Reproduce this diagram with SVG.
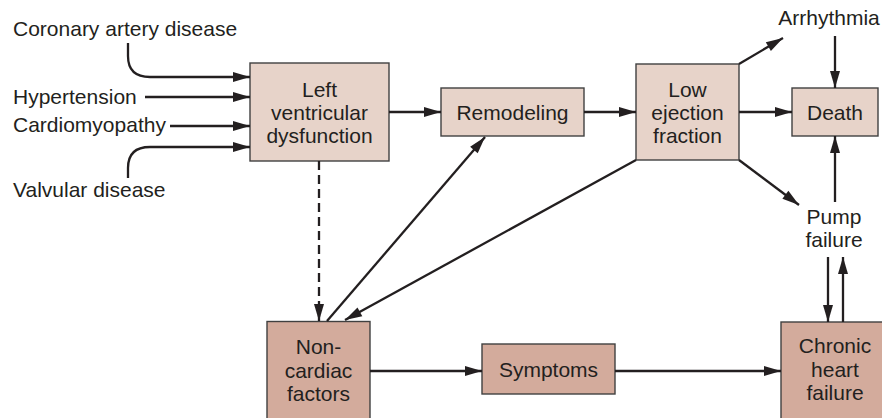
<svg xmlns="http://www.w3.org/2000/svg" width="882" height="418" viewBox="0 0 882 418">
  <defs>
    <marker id="arrow" markerUnits="userSpaceOnUse" markerWidth="18" markerHeight="11" refX="17" refY="5" orient="auto" overflow="visible">
      <path d="M0,0 L17,5 L0,10 Z" fill="#231f20"/>
    </marker>
    <style>
      .t { font-family: "Liberation Sans", Arial, sans-serif; font-size: 21px; fill: #231f20; }
      .c { text-anchor: middle; }
      .light { fill: #e7d3c9; stroke: #404040; stroke-width: 1.4; }
      .dark { fill: #d3ab9c; stroke: #404040; stroke-width: 1.4; }
      .ln { fill: none; stroke: #231f20; stroke-width: 2.3; marker-end: url(#arrow); }
      .dash { stroke-dasharray: 9 5; }
    </style>
  </defs>

  <!-- causes -->
  <g id="causes">
    <text class="t" x="13" y="36">Coronary artery disease</text>
    <text class="t" x="13" y="104">Hypertension</text>
    <text class="t" x="13" y="132">Cardiomyopathy</text>
    <text class="t" x="13" y="197">Valvular disease</text>
  </g>

  <g id="lv-dysfunction">
    <rect class="light" x="250" y="63" width="139" height="98"/>
    <text class="t c" x="319.5" y="97">Left</text>
    <text class="t c" x="319.5" y="120">ventricular</text>
    <text class="t c" x="319.5" y="143">dysfunction</text>
  </g>

  <g id="remodeling">
    <rect class="light" x="441" y="88" width="143" height="48"/>
    <text class="t c" x="512.5" y="119.5">Remodeling</text>
  </g>

  <g id="low-ef">
    <rect class="light" x="636" y="64" width="103" height="96"/>
    <text class="t c" x="687.5" y="97">Low</text>
    <text class="t c" x="687.5" y="120">ejection</text>
    <text class="t c" x="687.5" y="143">fraction</text>
  </g>

  <g id="death">
    <rect class="light" x="792" y="88" width="86" height="48"/>
    <text class="t c" x="835" y="119.5">Death</text>
  </g>

  <g id="arrhythmia">
    <text class="t c" x="829" y="25">Arrhythmia</text>
  </g>

  <g id="pump-failure">
    <text class="t c" x="834" y="224">Pump</text>
    <text class="t c" x="834" y="247">failure</text>
  </g>

  <g id="non-cardiac">
    <rect class="dark" x="267" y="321.5" width="103" height="110"/>
    <text class="t c" x="318.5" y="354">Non-</text>
    <text class="t c" x="318.5" y="378">cardiac</text>
    <text class="t c" x="318.5" y="401">factors</text>
  </g>

  <g id="symptoms">
    <rect class="dark" x="482" y="344" width="133" height="50"/>
    <text class="t c" x="548.5" y="377">Symptoms</text>
  </g>

  <g id="chronic-hf">
    <rect class="dark" x="781" y="322" width="108" height="110"/>
    <text class="t c" x="835" y="353">Chronic</text>
    <text class="t c" x="835" y="377">heart</text>
    <text class="t c" x="835" y="400">failure</text>
  </g>

  <!-- connectors -->
  <g id="connectors">
    <path class="ln" d="M128,43 L128,56 C128,70 136,77 150,77 L250,77"/>
    <path class="ln" d="M145,97 L250,97"/>
    <path class="ln" d="M170,126 L250,126"/>
    <path class="ln" d="M128,178 L128,168 C128,154 136,147 150,147 L250,147"/>

    <path class="ln" d="M389,112 L441,112"/>
    <path class="ln" d="M584,112 L636,112"/>
    <path class="ln" d="M739,112 L792,112"/>
    <path class="ln" d="M739,64 L783,38"/>
    <path class="ln" d="M835,36 L835,88"/>
    <path class="ln" d="M739,160 L799,205"/>
    <path class="ln" d="M835,202 L835,136"/>

    <path class="ln dash" d="M319,161 L319,321"/>
    <path class="ln" d="M327,321 L485,137"/>
    <path class="ln" d="M636,160 L345,320"/>

    <path class="ln" d="M370,371 L482,371"/>
    <path class="ln" d="M615,371 L781,371"/>
    <path class="ln" d="M828,257 L828,322"/>
    <path class="ln" d="M843,322 L843,257"/>
  </g>
</svg>
